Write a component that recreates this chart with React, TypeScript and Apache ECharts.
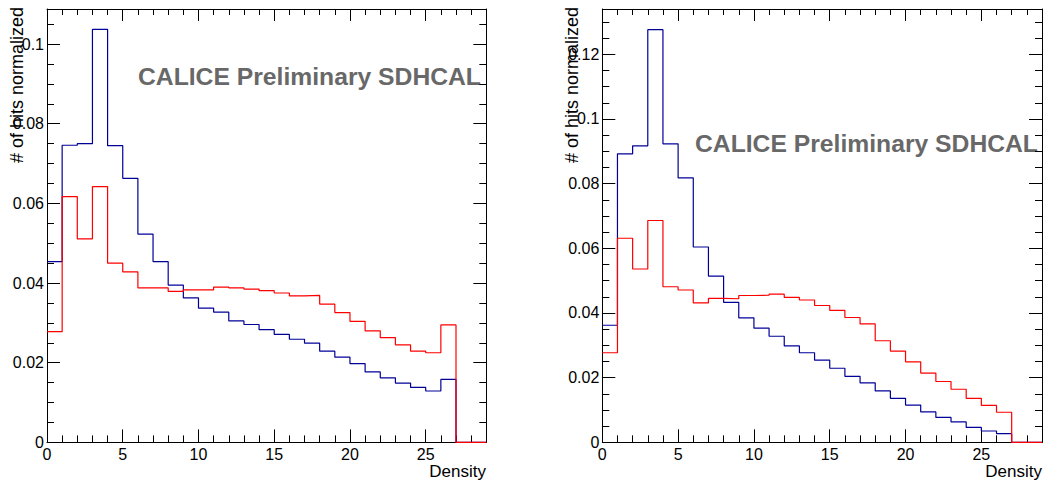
import React, { useEffect, useRef } from "react";
import * as echarts from "echarts";

// Bin edges 0..29, unit width; values per bin (bins 0..28)
const X_MAX = 29;
const leftBlue = [0.0454, 0.0746, 0.075, 0.1037, 0.0745, 0.0663, 0.0523, 0.0454, 0.0395, 0.0363, 0.0337, 0.0327, 0.0305, 0.0296, 0.0283, 0.0271, 0.0259, 0.0249, 0.0229, 0.0214, 0.0198, 0.0177, 0.0162, 0.0149, 0.0138, 0.0129, 0.0158, 0, 0];
const leftRed = [0.0278, 0.0617, 0.0511, 0.0642, 0.045, 0.0428, 0.0388, 0.0388, 0.0379, 0.0383, 0.0383, 0.039, 0.0388, 0.0385, 0.0381, 0.0375, 0.0368, 0.0369, 0.0347, 0.0326, 0.0304, 0.028, 0.0263, 0.0245, 0.0229, 0.0225, 0.0295, 0, 0];
const rightBlue = [0.0362, 0.0892, 0.0917, 0.1276, 0.0923, 0.0818, 0.0604, 0.0514, 0.0433, 0.0385, 0.0353, 0.0328, 0.0298, 0.0277, 0.0254, 0.0229, 0.0204, 0.0184, 0.0159, 0.0136, 0.0115, 0.0094, 0.0077, 0.0063, 0.0046, 0.0035, 0.0027, 0, 0];
const rightRed = [0.0277, 0.0631, 0.0536, 0.0686, 0.0481, 0.0471, 0.0431, 0.0445, 0.0444, 0.0454, 0.0455, 0.0458, 0.0448, 0.044, 0.0423, 0.0408, 0.0386, 0.0366, 0.0314, 0.0282, 0.0249, 0.0214, 0.0188, 0.0164, 0.0136, 0.0114, 0.0093, 0, 0];

const leftYMax = 0.1088;
const rightYMax = 0.134;
const yMajor = 0.02;
const yMinor = 0.005;
const xMajor = 5;
const xMinor = 1;

const xTitle = "Density";
const yTitle = "# of hits normalized";
const watermark = "CALICE Preliminary SDHCAL";

const BLUE = "#000099";
const RED = "#ff0000";
const FONT = "'Liberation Sans', Arial, Helvetica, sans-serif";

const isMult = (v: number, step: number) => Math.abs(v / step - Math.round(v / step)) < 1e-6;
const fmtY = (v: number) => (v === 0 ? "0" : String(Number(v.toFixed(3))));

const toStep = (vals: number[]) => [
  ...vals.map((v, i) => [i, v]),
  [vals.length, vals[vals.length - 1]],
];

const tickLine = { color: "#000", width: 1 };

function axesFor(gridIndex: number, yMax: number) {
  const xBase = { type: "value", gridIndex, min: 0, max: X_MAX, splitLine: { show: false } };
  const yBase = { type: "value", gridIndex, min: 0, max: yMax, splitLine: { show: false } };
  const xAxes = [
    {
      ...xBase,
      position: "bottom",
      interval: xMajor,
      axisLine: { show: true, onZero: false, lineStyle: tickLine },
      axisTick: { show: true, inside: true, length: 13, lineStyle: tickLine },
      axisLabel: {
        show: true,
        margin: 4,
        fontSize: 16,
        fontFamily: FONT,
        color: "#000",
        formatter: (v: number) => (isMult(v, xMajor) ? String(v) : ""),
      },
    },
    {
      ...xBase,
      position: "bottom",
      interval: xMinor,
      axisLine: { show: false, onZero: false },
      axisTick: { show: true, inside: true, length: 7, lineStyle: tickLine },
      axisLabel: { show: false },
    },
    {
      ...xBase,
      position: "top",
      interval: xMajor,
      axisLine: { show: true, onZero: false, lineStyle: tickLine },
      axisTick: { show: true, inside: true, length: 12, lineStyle: tickLine },
      axisLabel: { show: false },
    },
    {
      ...xBase,
      position: "top",
      interval: xMinor,
      axisLine: { show: false, onZero: false },
      axisTick: { show: true, inside: true, length: 6, lineStyle: tickLine },
      axisLabel: { show: false },
    },
  ];
  const yAxes = [
    {
      ...yBase,
      position: "left",
      interval: yMajor,
      axisLine: { show: true, onZero: false, lineStyle: tickLine },
      axisTick: { show: true, inside: true, length: 13, lineStyle: tickLine },
      axisLabel: {
        show: true,
        margin: 3,
        fontSize: 16,
        fontFamily: FONT,
        color: "#000",
        formatter: (v: number) => (isMult(v, yMajor) ? fmtY(v) : ""),
      },
    },
    {
      ...yBase,
      position: "left",
      interval: yMinor,
      axisLine: { show: false, onZero: false },
      axisTick: { show: true, inside: true, length: 7, lineStyle: tickLine },
      axisLabel: { show: false },
    },
    {
      ...yBase,
      position: "right",
      interval: yMajor,
      axisLine: { show: true, onZero: false, lineStyle: tickLine },
      axisTick: { show: true, inside: true, length: 13, lineStyle: tickLine },
      axisLabel: { show: false },
    },
    {
      ...yBase,
      position: "right",
      interval: yMinor,
      axisLine: { show: false, onZero: false },
      axisTick: { show: true, inside: true, length: 7, lineStyle: tickLine },
      axisLabel: { show: false },
    },
  ];
  return { xAxes, yAxes };
}

function histSeries(gridIndex: number, vals: number[], color: string) {
  return {
    type: "line",
    xAxisIndex: gridIndex * 4,
    yAxisIndex: gridIndex * 4,
    data: toStep(vals),
    step: "end",
    symbol: "none",
    clip: false,
    silent: true,
    lineStyle: { color, width: 1.2 },
  };
}

export default function App() {
  const ref = useRef<HTMLDivElement>(null);
  useEffect(() => {
    if (!ref.current) return;
    const chart = echarts.init(ref.current, null, { renderer: "svg" });
    const a0 = axesFor(0, leftYMax);
    const a1 = axesFor(1, rightYMax);
    const option: any = {
      animation: false,
      backgroundColor: "#fff",
      grid: [
        { left: 47, top: 9, width: 439.3, height: 433.4 },
        { left: 602.3, top: 9, width: 439.7, height: 433.3 },
      ],
      xAxis: [...a0.xAxes, ...a1.xAxes],
      yAxis: [...a0.yAxes, ...a1.yAxes],
      series: [
        histSeries(0, leftBlue, BLUE),
        histSeries(0, leftRed, RED),
        histSeries(1, rightBlue, BLUE),
        histSeries(1, rightRed, RED),
      ],
      graphic: [
        {
          type: "text",
          x: 486,
          y: 471,
          style: { text: xTitle, font: `17px ${FONT}`, fill: "#000", align: "right", verticalAlign: "middle" },
        },
        {
          type: "text",
          x: 1042,
          y: 471,
          style: { text: xTitle, font: `17px ${FONT}`, fill: "#000", align: "right", verticalAlign: "middle" },
        },
        {
          type: "text",
          x: 17,
          y: 7,
          rotation: Math.PI / 2,
          style: { text: yTitle, font: `18px ${FONT}`, fill: "#000", align: "right", verticalAlign: "middle" },
        },
        {
          type: "text",
          x: 572,
          y: 7,
          rotation: Math.PI / 2,
          style: { text: yTitle, font: `18px ${FONT}`, fill: "#000", align: "right", verticalAlign: "middle" },
        },
        {
          type: "text",
          x: 138,
          y: 76,
          style: { text: watermark, font: `bold 24.7px ${FONT}`, fill: "#686868", align: "left", verticalAlign: "middle" },
        },
        {
          type: "text",
          x: 695,
          y: 143,
          style: { text: watermark, font: `bold 24.7px ${FONT}`, fill: "#686868", align: "left", verticalAlign: "middle" },
        },
      ],
    };
    chart.setOption(option);
    return () => chart.dispose();
  }, []);
  return (
    <div
      ref={ref}
      style={{ position: "fixed", left: 0, top: 0, width: 1048, height: 486, background: "#fff" }}
    />
  );
}
